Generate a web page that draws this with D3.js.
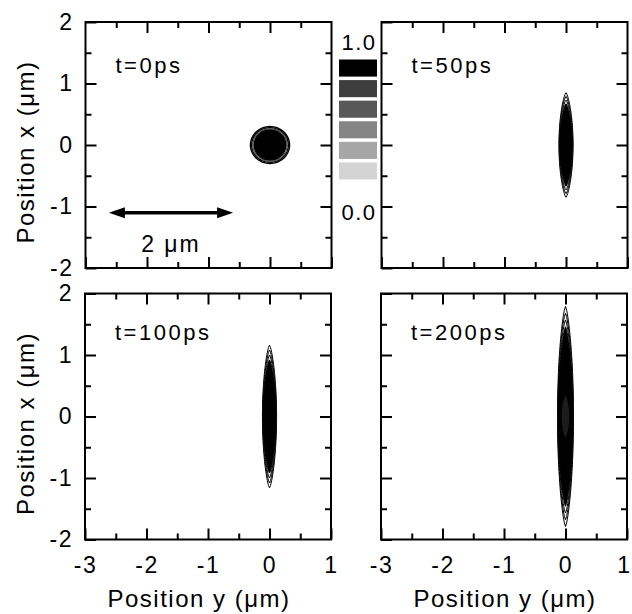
<!DOCTYPE html>
<html>
<head>
<meta charset="utf-8">
<script src="https://cdn.jsdelivr.net/npm/d3@7"></script>
<style>
  body { margin: 0; background: #fff; }
  text { font-family: "Liberation Sans", Arial, sans-serif; fill: #000; }
</style>
</head>
<body>
<div id="chart"></div>
<script>
// values (μm)
const panelLabels = ["t=0ps", "t=50ps", "t=100ps", "t=200ps"];
const majorTicksY = [-3, -2, -1, 0, 1];
const minorTicksY = [-2.5, -1.5, -0.5, 0.5];
const majorTicksX = [-2, -1, 0, 1, 2];
const minorTicksX = [-1.5, -0.5, 0.5, 1.5];

// contour semi-axes, outer -> inner: along x (vertical) and along y (horizontal)
const halfLength = [
  [0.3, 0.282, 0.265, 0.245, 0.2, 0.14],
  [0.85, 0.79, 0.73, 0.67, 0.61, 0.54, 0.46, 0.37, 0.26, 0.14],
  [1.16, 1.08, 1.0, 0.92, 0.83, 0.74, 0.63, 0.51, 0.37, 0.2],
  [1.79, 1.68, 1.57, 1.46, 1.34, 1.2, 1.04, 0.86, 0.63, 0.35]
];
const halfWidth = [
  [0.318, 0.298, 0.278, 0.256, 0.21, 0.15],
  [0.115, 0.11, 0.105, 0.1, 0.095, 0.09, 0.085, 0.08, 0.07, 0.06],
  [0.115, 0.11, 0.105, 0.1, 0.095, 0.09, 0.085, 0.08, 0.07, 0.06],
  [0.13, 0.125, 0.12, 0.115, 0.11, 0.105, 0.1, 0.09, 0.08, 0.07]
];

const legendValues = ["1.0", "0.0"];
const legendGreys = ["#000000", "#3e3e3e", "#585858", "#858585", "#a6a6a6", "#d4d4d4"];

// scale arrow (2 μm) in the first panel
const arrowFrom = -2.62;
const arrowTo = -0.6;
const arrowAt = -1.1;

document.addEventListener("DOMContentLoaded", () => {
  const width = 632;
  const height = 614;
  const size = 246;

  const panelPos = [
    { x: 85.5, y: 22 },
    { x: 381.5, y: 22 },
    { x: 85, y: 293.5 },
    { x: 381, y: 293.5 }
  ];

  const svg = d3
    .select("#chart")
    .append("svg")
    .attr("width", width)
    .attr("height", height);

  const xScale = d3.scaleLinear().domain([-3, 1]).range([0, size]);
  const yScale = d3.scaleLinear().domain([-2, 2]).range([size, 0]);

  // lens-shaped contour outline
  const contourPoints = (a, b, p) => {
    const pts = [];
    const n = 60;
    for (let i = 0; i <= n; i++) {
      const s = -1 + (2 * i) / n;
      pts.push([b * Math.pow(1 - s * s, p), a * s]);
    }
    for (let i = n; i >= 0; i--) {
      const s = -1 + (2 * i) / n;
      pts.push([-b * Math.pow(1 - s * s, p), a * s]);
    }
    return pts;
  };

  const line = d3
    .line()
    .x((d) => xScale(d[0]))
    .y((d) => yScale(d[1]))
    .curve(d3.curveLinearClosed);

  const fmt = (d) => String(d); // plain hyphen minus like the original

  panelPos.forEach((pos, k) => {
    const g = svg
      .append("g")
      .attr("class", "panel")
      .attr("transform", `translate(${pos.x},${pos.y})`);

    const isLeft = k % 2 === 0;
    const isBottom = k >= 2;

    // contours
    const shapeP = k === 0 ? 0.5 : 0.72;
    const levels = halfLength[k].map((a, i) => ({ a, b: halfWidth[k][i], i }));
    const n = levels.length;
    g.selectAll("path.contour")
      .data(levels)
      .enter()
      .append("path")
      .attr("class", "contour")
      .attr("d", (d) => line(contourPoints(d.a, d.b, shapeP)))
      .attr("fill", (d) => {
        if (d.i < 3) return "#fff";
        if (k === 3 && d.i === n - 1) return "#1c1c1c";
        return "#000";
      })
      .attr("stroke", (d) => (k === 0 && d.i === 2 ? "#555" : "#000"))
      .attr("stroke-width", k === 0 ? 1.4 : 1);

    // frame
    g.append("rect")
      .attr("width", size)
      .attr("height", size)
      .attr("fill", "none")
      .attr("stroke", "#000")
      .attr("stroke-width", 2);

    const addAxis = (axis, transform, showLabels) => {
      const ax = g
        .append("g")
        .attr("transform", transform)
        .call(axis);
      ax.select(".domain").remove();
      ax.selectAll("line").attr("stroke-width", 2);
      ax.selectAll("text")
        .style("font-size", "23px")
        .style("letter-spacing", "1.5px")
        .style("display", showLabels ? null : "none");
      return ax;
    };

    // bottom
    const bottomAxis = addAxis(
      d3.axisBottom(xScale).tickValues(majorTicksY).tickSize(-11).tickSizeOuter(0).tickPadding(17).tickFormat(fmt),
      `translate(0,${size})`,
      isBottom
    );
    if (!isLeft) {
      // keep the last label inside the page edge
      bottomAxis.selectAll("text").filter((d) => d === 1).attr("dx", -3);
    }
    addAxis(
      d3.axisBottom(xScale).tickValues(minorTicksY).tickSize(-6).tickSizeOuter(0).tickFormat(""),
      `translate(0,${size})`,
      false
    );
    // top
    addAxis(
      d3.axisTop(xScale).tickValues(majorTicksY.slice(1, -1)).tickSize(-11).tickSizeOuter(0).tickFormat(""),
      "translate(0,0)",
      false
    );
    addAxis(
      d3.axisTop(xScale).tickValues(minorTicksY).tickSize(-6).tickSizeOuter(0).tickFormat(""),
      "translate(0,0)",
      false
    );
    // left
    addAxis(
      d3.axisLeft(yScale).tickValues(majorTicksX).tickSize(-11).tickSizeOuter(0).tickPadding(12).tickFormat(fmt),
      "translate(0,0)",
      isLeft
    );
    addAxis(
      d3.axisLeft(yScale).tickValues(minorTicksX).tickSize(-6).tickSizeOuter(0).tickFormat(""),
      "translate(0,0)",
      false
    );
    // right
    addAxis(
      d3.axisRight(yScale).tickValues(majorTicksX.slice(1, -1)).tickSize(-11).tickSizeOuter(0).tickFormat(""),
      `translate(${size},0)`,
      false
    );
    addAxis(
      d3.axisRight(yScale).tickValues(minorTicksX).tickSize(-6).tickSizeOuter(0).tickFormat(""),
      `translate(${size},0)`,
      false
    );

    // time label
    g.append("text")
      .attr("x", 30)
      .attr("y", isBottom ? 46.5 : 51)
      .style("font-size", "22px")
      .style("letter-spacing", "2.5px")
      .text(panelLabels[k]);

    if (isLeft) {
      svg
        .append("text")
        .attr("transform", `translate(34,${pos.y + size / 2 + 7}) rotate(-90)`)
        .attr("text-anchor", "middle")
        .style("font-size", "24px")
        .style("letter-spacing", "1.5px")
        .text("Position x (μm)");
    }
    if (isBottom) {
      svg
        .append("text")
        .attr("x", pos.x + size / 2 + (isLeft ? -9 : 1))
        .attr("y", 607)
        .attr("text-anchor", "middle")
        .style("font-size", "24px")
        .style("letter-spacing", "1.5px")
        .text("Position y (μm)");
    }

    // scale arrow in first panel
    if (k === 0) {
      const ay = yScale(arrowAt);
      const x1 = xScale(arrowFrom);
      const x2 = xScale(arrowTo);
      const headL = 16;
      const headH = 5.5;
      g.append("line")
        .attr("x1", x1 + headL - 2)
        .attr("x2", x2 - headL + 2)
        .attr("y1", ay)
        .attr("y2", ay)
        .attr("stroke", "#000")
        .attr("stroke-width", 3.5);
      g.append("path")
        .attr("d", `M${x1},${ay} L${x1 + headL},${ay - headH} L${x1 + headL},${ay + headH} Z`)
        .attr("fill", "#000");
      g.append("path")
        .attr("d", `M${x2},${ay} L${x2 - headL},${ay - headH} L${x2 - headL},${ay + headH} Z`)
        .attr("fill", "#000");
      g.append("text")
        .attr("x", (x1 + x2) / 2)
        .attr("y", ay + 39)
        .attr("text-anchor", "middle")
        .style("font-size", "23px")
        .style("letter-spacing", "2px")
        .text("2 μm");
    }
  });

  // grey-level legend between the top panels
  const legend = svg.append("g").attr("id", "legend");
  const legendY = d3
    .scaleBand()
    .domain(d3.range(legendGreys.length))
    .range([59.5, 179.5])
    .paddingInner(0.17);

  legend
    .selectAll("rect")
    .data(legendGreys)
    .enter()
    .append("rect")
    .attr("x", 339)
    .attr("y", (_, i) => legendY(i))
    .attr("width", 38)
    .attr("height", legendY.bandwidth())
    .attr("fill", (d) => d);

  legend
    .selectAll("text")
    .data(legendValues)
    .enter()
    .append("text")
    .attr("x", 359)
    .attr("y", (_, i) => (i === 0 ? 50 : 220))
    .attr("text-anchor", "middle")
    .style("font-size", "22px")
    .style("letter-spacing", "1.5px")
    .text((d) => d);
});
</script>
</body>
</html>
